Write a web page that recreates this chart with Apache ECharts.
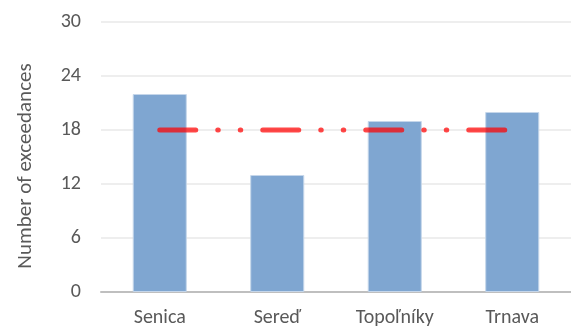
<!DOCTYPE html>
<html>
<head>
<meta charset="utf-8">
<script src="https://cdn.jsdelivr.net/npm/echarts@6/dist/echarts.min.js"></script>
<style>
  html, body { margin: 0; padding: 0; background: #fff; }
  #chart { width: 571px; height: 329px; }
</style>
</head>
<body>
<div id="chart"></div>
<script>
// Stations and their yearly number of exceedances
const stations = ['Senica', 'Sereď', 'Topoľníky', 'Trnava'];
const exceedances = [22, 13, 19, 20];
// Permitted number of exceedances per year
const limitValue = 18;
const limitLine = stations.map(() => limitValue);
const yTicks = [0, 6, 12, 18, 24, 30];

const font = 'Carlito, Calibri, "Open Sans", sans-serif';
const chart = echarts.init(document.getElementById('chart'), null, { renderer: 'canvas' });

chart.setOption({
  animation: false,
  backgroundColor: '#ffffff',
  grid: { left: 101, right: 0, top: 22, bottom: 37 },
  xAxis: {
    type: 'category',
    data: stations,
    axisLine: { lineStyle: { color: '#bfbfbf', width: 2 } },
    axisTick: { show: false },
    axisLabel: { color: '#595959', fontSize: 20, fontFamily: font, margin: 16 }
  },
  yAxis: {
    type: 'value',
    min: yTicks[0],
    max: yTicks[yTicks.length - 1],
    interval: 6,
    name: 'Number of exceedances',
    nameLocation: 'middle',
    nameGap: 65,
    // right padding nudges the rotated title a little lower
    nameTextStyle: { color: '#595959', fontSize: 21, fontFamily: font, padding: [0, 18, 0, 0] },
    axisLine: { show: false },
    axisTick: { show: false },
    axisLabel: { color: '#595959', fontSize: 20, fontFamily: font, margin: 20 },
    splitLine: { lineStyle: { color: '#e9e9e9', width: 1.5 } }
  },
  series: [
    {
      type: 'bar',
      data: exceedances,
      barWidth: '46%',
      itemStyle: { color: '#7fa6d1', borderColor: '#c5d6ea', borderWidth: 1 },
      z: 2
    },
    {
      type: 'line',
      data: limitLine,
      symbol: 'none',
      lineStyle: {
        color: 'rgba(255, 0, 0, 0.72)',
        width: 5,
        type: [36, 22, 0.5, 22, 0.5, 22],
        cap: 'round'
      },
      z: 3
    }
  ]
});
</script>
</body>
</html>
